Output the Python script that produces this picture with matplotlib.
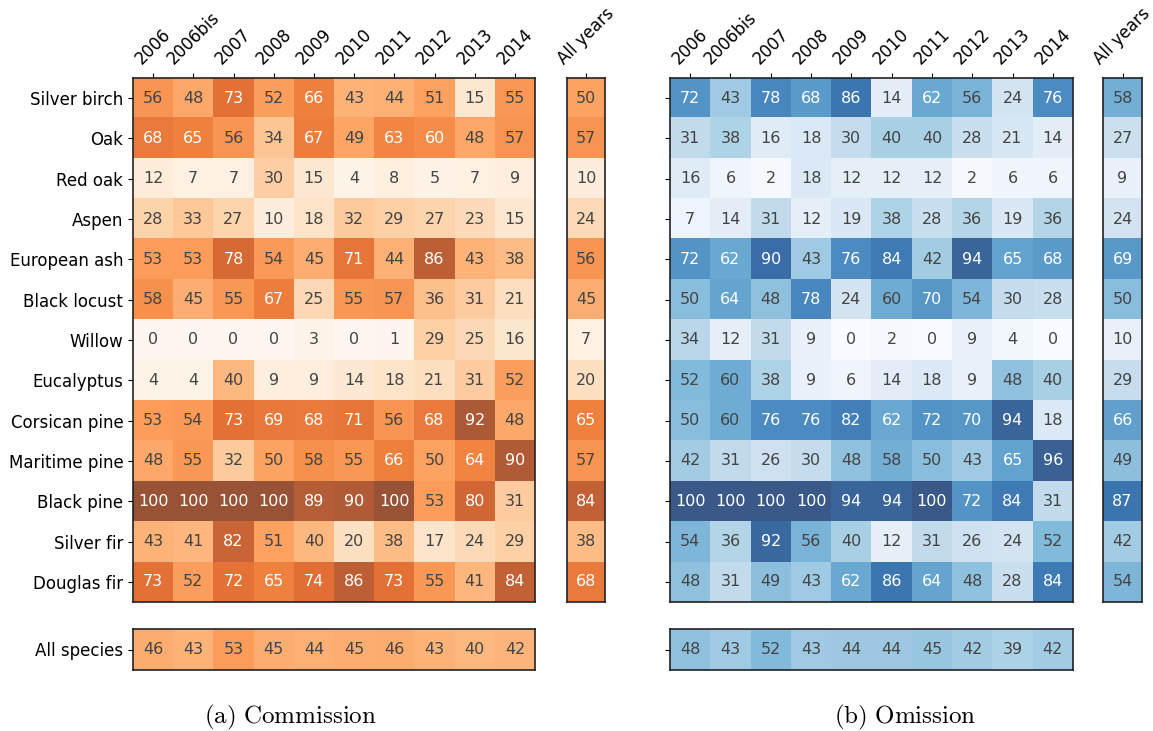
import numpy as np
import matplotlib
matplotlib.use("Agg")
import matplotlib.pyplot as plt

plt.rcParams['mathtext.fontset'] = 'cm'

years = ["2006", "2006bis", "2007", "2008", "2009", "2010", "2011", "2012", "2013", "2014"]
species = ["Silver birch", "Oak", "Red oak", "Aspen", "European ash", "Black locust", "Willow",
           "Eucalyptus", "Corsican pine", "Maritime pine", "Black pine", "Silver fir", "Douglas fir"]

commission = [
    [56, 48, 73, 52, 66, 43, 44, 51, 15, 55],
    [68, 65, 56, 34, 67, 49, 63, 60, 48, 57],
    [12, 7, 7, 30, 15, 4, 8, 5, 7, 9],
    [28, 33, 27, 10, 18, 32, 29, 27, 23, 15],
    [53, 53, 78, 54, 45, 71, 44, 86, 43, 38],
    [58, 45, 55, 67, 25, 55, 57, 36, 31, 21],
    [0, 0, 0, 0, 3, 0, 1, 29, 25, 16],
    [4, 4, 40, 9, 9, 14, 18, 21, 31, 52],
    [53, 54, 73, 69, 68, 71, 56, 68, 92, 48],
    [48, 55, 32, 50, 58, 55, 66, 50, 64, 90],
    [100, 100, 100, 100, 89, 90, 100, 53, 80, 31],
    [43, 41, 82, 51, 40, 20, 38, 17, 24, 29],
    [73, 52, 72, 65, 74, 86, 73, 55, 41, 84],
]
commission_all_years = [50, 57, 10, 24, 56, 45, 7, 20, 65, 57, 84, 38, 68]
commission_all_species = [46, 43, 53, 45, 44, 45, 46, 43, 40, 42]

omission = [
    [72, 43, 78, 68, 86, 14, 62, 56, 24, 76],
    [31, 38, 16, 18, 30, 40, 40, 28, 21, 14],
    [16, 6, 2, 18, 12, 12, 12, 2, 6, 6],
    [7, 14, 31, 12, 19, 38, 28, 36, 19, 36],
    [72, 62, 90, 43, 76, 84, 42, 94, 65, 68],
    [50, 64, 48, 78, 24, 60, 70, 54, 30, 28],
    [34, 12, 31, 9, 0, 2, 0, 9, 4, 0],
    [52, 60, 38, 9, 6, 14, 18, 9, 48, 40],
    [50, 60, 76, 76, 82, 62, 72, 70, 94, 18],
    [42, 31, 26, 30, 48, 58, 50, 43, 65, 96],
    [100, 100, 100, 100, 94, 94, 100, 72, 84, 31],
    [54, 36, 92, 56, 40, 12, 31, 26, 24, 52],
    [48, 31, 49, 43, 62, 86, 64, 48, 28, 84],
]
omission_all_years = [58, 27, 9, 24, 69, 50, 10, 29, 66, 49, 87, 42, 54]
omission_all_species = [48, 43, 52, 43, 44, 44, 45, 42, 39, 42]

W, H = 1153, 731
ALPHA = 0.8
FS = 12


def heat(ax, data, cmap, white_from):
    data = np.array(data, dtype=float)
    ax.imshow(data, cmap=cmap, vmin=0, vmax=100, alpha=ALPHA, aspect='auto',
              interpolation='nearest')
    for i in range(data.shape[0]):
        for j in range(data.shape[1]):
            v = data[i, j]
            col = 'white' if v >= white_from else '#444444'
            ax.text(j, i, "%d" % v, ha='center', va='center', color=col, fontsize=11.5)
    for s in ax.spines.values():
        s.set_color('#222222')
        s.set_linewidth(1.2)


def ax_px(fig, x0, y0, x1, y1):
    return fig.add_axes([x0 / W, 1 - y1 / H, (x1 - x0) / W, (y1 - y0) / H])


fig = plt.figure(figsize=(W / 100, H / 100), dpi=100)

panels = [
    (commission, commission_all_years, commission_all_species, 'Oranges', 60, 133, 535, 567, 605, True),
    (omission, omission_all_years, omission_all_species, 'Blues', 61, 670, 1073, 1103, 1142, False),
]

for data, ally, alls, cmap, wf, x0, x1, ax0, ax1, labels in panels:
    ax = ax_px(fig, x0, 78, x1, 602)
    heat(ax, data, cmap, wf)
    ax.xaxis.tick_top()
    ax.set_xticks(range(len(years)))
    ax.set_xticklabels(years, rotation=45, fontsize=FS)
    ax.set_yticks(range(len(species)))
    if labels:
        ax.set_yticklabels(species, fontsize=FS)
    else:
        ax.set_yticklabels([])

    axy = ax_px(fig, ax0, 78, ax1, 602)
    heat(axy, np.array(ally)[:, None], cmap, wf)
    axy.xaxis.tick_top()
    axy.set_xticks([0])
    axy.set_xticklabels(["All years"], rotation=45, fontsize=FS)
    axy.set_yticks([])

    axs = ax_px(fig, x0, 629, x1, 670)
    heat(axs, np.array(alls)[None, :], cmap, wf)
    axs.set_xticks([])
    axs.set_yticks([0])
    if labels:
        axs.set_yticklabels(["All species"], fontsize=FS)
    else:
        axs.set_yticklabels([])

fig.text(290 / W, 1 - 717 / H, r'$\mathrm{(a)\ Commission}$', ha='center', va='center', fontsize=18)
fig.text(905 / W, 1 - 717 / H, r'$\mathrm{(b)\ Omission}$', ha='center', va='center', fontsize=18)

fig.savefig("out.png", dpi=100)
